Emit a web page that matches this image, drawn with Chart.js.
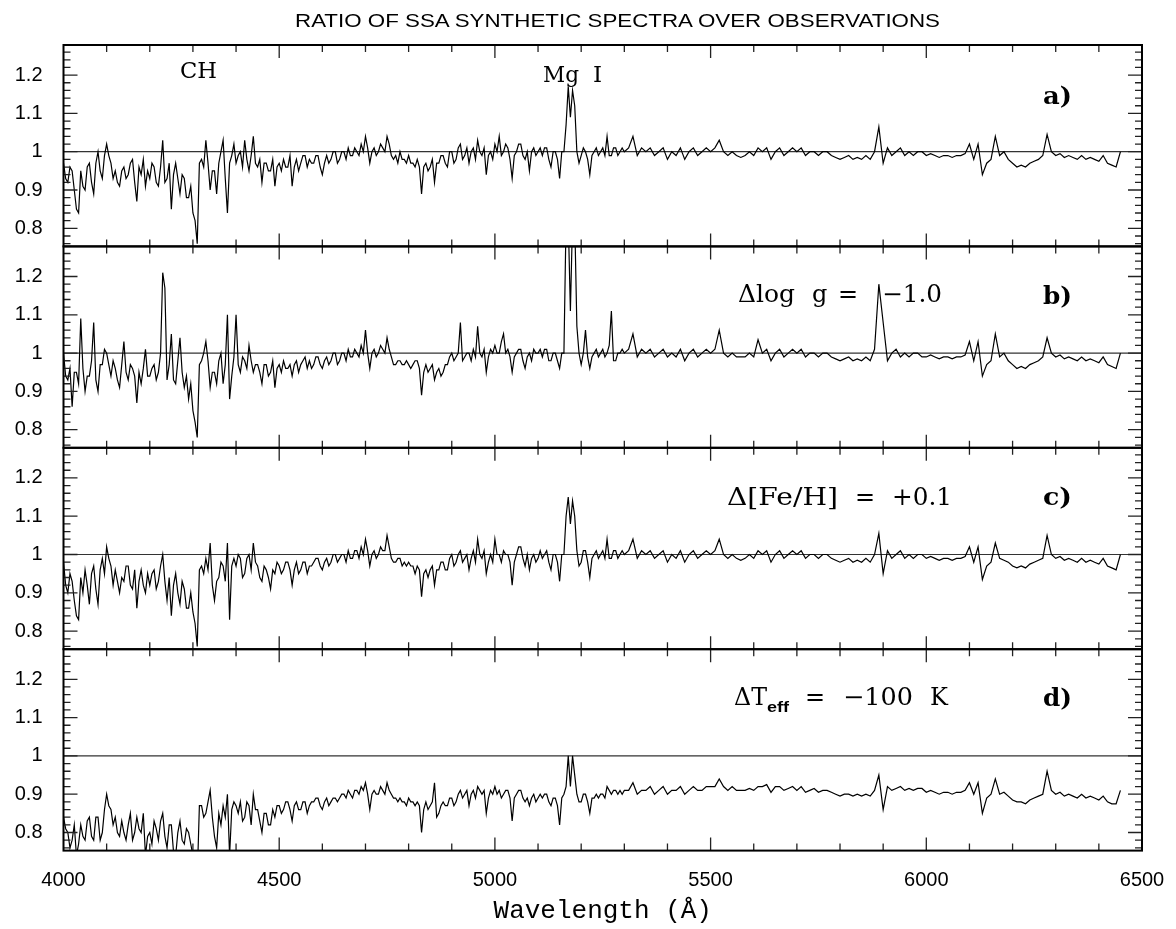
<!DOCTYPE html>
<html>
<head>
<meta charset="utf-8">
<title>Ratio of SSA synthetic spectra over observations</title>
<script src="https://cdn.jsdelivr.net/npm/chart.js@4.4.0/dist/chart.umd.min.js"></script>
<style>
  body { margin: 0; background: #fff; width: 1176px; height: 929px; overflow: hidden; position: relative; }
  canvas { position: absolute; left: 0; top: 0; }
  #labels { position: absolute; left: 0; top: 0; pointer-events: none; }
</style>
</head>
<body>
<canvas id="panelA" width="1176" height="929"></canvas>
<canvas id="panelB" width="1176" height="929"></canvas>
<canvas id="panelC" width="1176" height="929"></canvas>
<canvas id="panelD" width="1176" height="929"></canvas>

<svg id="labels" width="1176" height="929" xmlns="http://www.w3.org/2000/svg">
  <text x="295" y="26.7" font-family="Liberation Sans, Arial, sans-serif" font-size="18.5" textLength="645" lengthAdjust="spacingAndGlyphs">RATIO OF SSA SYNTHETIC SPECTRA OVER OBSERVATIONS</text>

  <g font-family="DejaVu Serif, serif" font-size="23" fill="#000">
    <text x="180" y="78" textLength="37" lengthAdjust="spacingAndGlyphs">CH</text>
    <text x="543" y="81.5" textLength="36" lengthAdjust="spacingAndGlyphs">Mg</text>
    <text x="593" y="81.5">I</text>
  </g>

  <g font-family="DejaVu Serif, serif" font-size="24" fill="#000">
    <text x="738" y="302" textLength="57" lengthAdjust="spacingAndGlyphs">Δlog</text>
    <text x="812" y="302">g</text>
    <text x="838" y="302">=</text>
    <text x="882" y="302" textLength="60" lengthAdjust="spacingAndGlyphs">−1.0</text>

    <text x="727" y="505" textLength="111" lengthAdjust="spacingAndGlyphs">Δ[Fe/H]</text>
    <text x="855" y="505">=</text>
    <text x="892" y="505" textLength="60" lengthAdjust="spacingAndGlyphs">+0.1</text>

    <text x="734" y="705" textLength="33" lengthAdjust="spacingAndGlyphs">ΔT</text>
    <text x="805" y="705">=</text>
    <text x="843" y="705" textLength="70" lengthAdjust="spacingAndGlyphs">−100</text>
    <text x="930" y="705">K</text>
    <text x="767" y="712" font-family="Liberation Sans, Arial, sans-serif" font-weight="bold" font-size="15" textLength="22" lengthAdjust="spacingAndGlyphs">eff</text>
  </g>

  <g font-family="DejaVu Serif, serif" font-size="25" font-weight="bold" fill="#000">
    <text x="1043" y="103.5" textLength="29" lengthAdjust="spacingAndGlyphs">a)</text>
    <text x="1043" y="304" textLength="29" lengthAdjust="spacingAndGlyphs">b)</text>
    <text x="1043" y="505" textLength="29" lengthAdjust="spacingAndGlyphs">c)</text>
    <text x="1043" y="706" textLength="29" lengthAdjust="spacingAndGlyphs">d)</text>
  </g>
</svg>

<script>
// --- Axis labels and ticks ---
const xTickValues = [4000, 4500, 5000, 5500, 6000, 6500];
const xTickLabels = ["4000", "4500", "5000", "5500", "6000", "6500"];
const yTickValues = [0.8, 0.9, 1, 1.1, 1.2];
const yTickLabels = ["0.8", "0.9", "1", "1.1", "1.2"];
const xAxisTitle = "Wavelength (Å)";

// --- Wavelength grid (Å): 5 Å steps up to 5295, 10 Å steps after ---
const wavelengths = [
  4000, 4005, 4010, 4015, 4020, 4025, 4030, 4035, 4040, 4045,
  4050, 4055, 4060, 4065, 4070, 4075, 4080, 4085, 4090, 4095,
  4100, 4105, 4110, 4115, 4120, 4125, 4130, 4135, 4140, 4145,
  4150, 4155, 4160, 4165, 4170, 4175, 4180, 4185, 4190, 4195,
  4200, 4205, 4210, 4215, 4220, 4225, 4230, 4235, 4240, 4245,
  4250, 4255, 4260, 4265, 4270, 4275, 4280, 4285, 4290, 4295,
  4300, 4305, 4310, 4315, 4320, 4325, 4330, 4335, 4340, 4345,
  4350, 4355, 4360, 4365, 4370, 4375, 4380, 4385, 4390, 4395,
  4400, 4405, 4410, 4415, 4420, 4425, 4430, 4435, 4440, 4445,
  4450, 4455, 4460, 4465, 4470, 4475, 4480, 4485, 4490, 4495,
  4500, 4505, 4510, 4515, 4520, 4525, 4530, 4535, 4540, 4545,
  4550, 4555, 4560, 4565, 4570, 4575, 4580, 4585, 4590, 4595,
  4600, 4605, 4610, 4615, 4620, 4625, 4630, 4635, 4640, 4645,
  4650, 4655, 4660, 4665, 4670, 4675, 4680, 4685, 4690, 4695,
  4700, 4705, 4710, 4715, 4720, 4725, 4730, 4735, 4740, 4745,
  4750, 4755, 4760, 4765, 4770, 4775, 4780, 4785, 4790, 4795,
  4800, 4805, 4810, 4815, 4820, 4825, 4830, 4835, 4840, 4845,
  4850, 4855, 4860, 4865, 4870, 4875, 4880, 4885, 4890, 4895,
  4900, 4905, 4910, 4915, 4920, 4925, 4930, 4935, 4940, 4945,
  4950, 4955, 4960, 4965, 4970, 4975, 4980, 4985, 4990, 4995,
  5000, 5005, 5010, 5015, 5020, 5025, 5030, 5035, 5040, 5045,
  5050, 5055, 5060, 5065, 5070, 5075, 5080, 5085, 5090, 5095,
  5100, 5105, 5110, 5115, 5120, 5125, 5130, 5135, 5140, 5145,
  5150, 5155, 5160, 5165, 5170, 5175, 5180, 5185, 5190, 5195,
  5200, 5205, 5210, 5215, 5220, 5225, 5230, 5235, 5240, 5245,
  5250, 5255, 5260, 5265, 5270, 5275, 5280, 5285, 5290, 5295,
  5300, 5310, 5320, 5330, 5340, 5350, 5360, 5370, 5380, 5390,
  5400, 5410, 5420, 5430, 5440, 5450, 5460, 5470, 5480, 5490,
  5500, 5510, 5520, 5530, 5540, 5550, 5560, 5570, 5580, 5590,
  5600, 5610, 5620, 5630, 5640, 5650, 5660, 5670, 5680, 5690,
  5700, 5710, 5720, 5730, 5740, 5750, 5760, 5770, 5780, 5790,
  5800, 5810, 5820, 5830, 5840, 5850, 5860, 5870, 5880, 5890,
  5900, 5910, 5920, 5930, 5940, 5950, 5960, 5970, 5980, 5990,
  6000, 6010, 6020, 6030, 6040, 6050, 6060, 6070, 6080, 6090,
  6100, 6110, 6120, 6130, 6140, 6150, 6160, 6170, 6180, 6190,
  6200, 6210, 6220, 6230, 6240, 6250, 6260, 6270, 6280, 6290,
  6300, 6310, 6320, 6330, 6340, 6350, 6360, 6370, 6380, 6390,
  6400, 6410, 6420, 6430, 6440, 6450
];

// --- Ratio synthetic / observed, one array per panel ---
// a) reference model
const ratioA = [
  0.97, 0.93, 0.92, 0.96, 0.95, 0.90, 0.85, 0.84, 0.95, 0.91,
  0.90, 0.96, 0.97, 0.92, 0.89, 0.97, 1.00, 0.95, 0.93, 0.99,
  1.02, 0.99, 0.97, 0.93, 0.95, 0.92, 0.91, 0.95, 0.96, 0.93,
  0.94, 0.97, 0.98, 0.92, 0.87, 0.96, 0.94, 0.98, 0.91, 0.95,
  0.93, 0.97, 0.96, 0.92, 0.91, 0.96, 1.03, 0.92, 0.93, 0.97,
  0.85, 0.94, 0.97, 0.93, 0.89, 0.94, 0.93, 0.88, 0.88, 0.91,
  0.84, 0.82, 0.76, 0.97, 0.98, 0.96, 1.03, 0.97, 0.90, 0.95,
  0.95, 0.89, 0.97, 1.00, 1.03, 0.93, 0.84, 0.97, 0.99, 1.02,
  0.97, 0.99, 1.00, 0.96, 1.03, 0.98, 0.95, 0.99, 1.04, 0.97,
  0.96, 0.98, 0.92, 0.97, 0.97, 0.95, 0.95, 0.98, 0.91, 0.96,
  0.97, 0.95, 0.98, 0.96, 0.96, 0.99, 0.91, 0.96, 0.98, 0.95,
  0.97, 0.99, 0.99, 0.96, 0.98, 0.97, 0.97, 0.99, 0.99, 0.96,
  0.94, 0.97, 0.99, 0.97, 0.98, 1.00, 1.00, 0.97, 0.98, 1.00,
  1.00, 0.98, 1.01, 0.99, 0.99, 1.01, 1.00, 0.99, 1.02, 1.00,
  1.04, 1.01, 0.97, 1.00, 1.01, 0.99, 1.00, 1.02, 1.01, 1.00,
  1.04, 1.02, 0.99, 0.98, 0.99, 0.97, 1.00, 0.98, 0.98, 0.97,
  0.99, 0.97, 0.97, 0.96, 0.98, 0.96, 0.89, 0.96, 0.97, 0.95,
  0.96, 0.98, 0.92, 0.97, 0.97, 0.99, 0.99, 0.97, 0.96, 1.00,
  1.00, 0.97, 0.98, 1.01, 1.02, 0.98, 0.99, 1.01, 0.97, 1.00,
  1.01, 0.98, 1.03, 1.00, 0.99, 1.01, 0.94, 0.99, 1.00, 0.98,
  1.02, 1.00, 1.04, 0.99, 1.00, 1.02, 1.01, 0.98, 0.93, 0.99,
  1.00, 1.02, 1.02, 0.99, 0.98, 1.00, 0.95, 1.00, 1.01, 0.99,
  1.00, 1.01, 0.99, 1.01, 1.01, 0.98, 0.96, 1.00, 1.00, 0.98,
  0.93, 1.00, 1.00, 1.07, 1.17, 1.09, 1.16, 1.12, 1.00, 0.97,
  0.99, 1.01, 1.00, 0.98, 0.94, 0.99, 1.00, 1.01, 0.99, 1.00,
  1.01, 0.99, 1.04, 0.99, 0.99, 1.01, 1.01, 0.99, 1.00, 1.01,
  1.00, 1.01, 1.04, 0.99, 1.01, 1.00, 1.01, 0.99, 1.00, 1.01,
  0.98, 1.00, 0.99, 1.01, 0.98, 1.00, 1.01, 0.99, 1.00, 1.01,
  1.00, 1.01, 1.03, 1.00, 0.99, 1.00, 0.99, 0.985, 0.99, 1.00,
  0.99, 1.01, 1.00, 1.01, 0.98, 1.00, 1.01, 0.99, 1.00, 1.01,
  1.00, 1.01, 0.99, 1.00, 1.00, 0.99, 1.00, 1.00, 0.99, 0.985,
  0.98, 0.985, 0.99, 0.98, 0.985, 0.98, 0.99, 0.98, 1.00, 1.065,
  0.97, 1.01, 0.99, 1.00, 1.01, 0.99, 1.00, 0.99, 1.00, 1.00,
  0.99, 0.995, 0.99, 0.985, 0.99, 0.99, 0.985, 0.99, 0.99, 0.995,
  1.02, 0.98, 1.02, 0.94, 0.97, 0.98, 1.04, 0.99, 1.00, 0.98,
  0.97, 0.96, 0.965, 0.96, 0.97, 0.975, 0.98, 0.99, 1.045, 1.00,
  0.99, 0.995, 0.985, 0.99, 0.985, 0.98, 0.99, 0.98, 0.985, 0.98,
  0.975, 0.99, 0.97, 0.965, 0.96, 1.00
];

// b) delta log g = -1.0
const ratioB = [
  1.00, 0.94, 0.93, 0.96, 0.86, 0.95, 0.95, 0.92, 1.09, 0.96,
  0.90, 0.94, 0.94, 0.98, 1.08, 0.93, 0.90, 0.97, 0.97, 1.01,
  1.00, 0.97, 0.94, 0.98, 0.96, 0.93, 0.91, 0.97, 1.03, 0.95,
  0.93, 0.97, 0.96, 0.94, 0.87, 0.95, 0.92, 0.96, 1.01, 0.94,
  0.94, 0.96, 0.97, 0.93, 0.95, 1.00, 1.21, 1.17, 0.93, 0.97,
  1.05, 0.93, 0.92, 0.98, 1.04, 0.95, 0.91, 0.94, 0.88, 0.92,
  0.85, 0.82, 0.78, 0.97, 0.98, 1.00, 1.03, 0.98, 0.91, 0.95,
  0.95, 0.92, 0.98, 1.00, 0.92, 0.97, 1.10, 0.88, 0.94, 0.99,
  1.10, 0.97, 0.95, 0.99, 0.98, 0.96, 1.02, 0.98, 0.95, 0.97,
  0.97, 0.95, 0.92, 0.97, 0.97, 0.94, 0.95, 0.98, 0.91, 0.96,
  0.97, 0.95, 0.98, 0.96, 0.96, 0.97, 0.94, 0.97, 0.98, 0.95,
  0.97, 0.98, 0.99, 0.96, 0.98, 0.96, 0.97, 0.99, 0.99, 0.97,
  0.96, 0.98, 0.99, 0.97, 0.98, 1.00, 1.00, 0.97, 0.98, 1.00,
  1.00, 0.98, 1.01, 0.99, 0.99, 1.01, 1.00, 0.99, 1.02, 1.00,
  1.06, 1.00, 0.96, 1.00, 1.01, 0.99, 1.00, 1.02, 1.01, 1.00,
  1.04, 1.01, 0.99, 0.97, 0.97, 0.98, 0.98, 0.97, 0.97, 0.98,
  0.97, 0.96, 0.97, 0.98, 0.98, 0.96, 0.89, 0.95, 0.97, 0.95,
  0.96, 0.97, 0.93, 0.95, 0.96, 0.94, 0.95, 0.97, 0.97, 0.99,
  1.00, 0.98, 0.99, 1.00, 1.08, 0.98, 0.99, 1.00, 1.00, 0.98,
  1.01, 0.99, 1.07, 1.00, 0.99, 1.01, 0.95, 0.99, 1.01, 1.00,
  1.02, 1.00, 1.00, 1.03, 1.05, 1.00, 1.01, 0.99, 0.95, 0.99,
  1.00, 1.01, 1.01, 0.98, 0.96, 0.99, 1.00, 0.98, 1.01, 1.00,
  1.00, 1.01, 0.99, 1.01, 1.01, 0.98, 0.98, 1.00, 1.00, 0.98,
  0.96, 1.00, 1.00, 1.35, 1.35, 1.11, 1.35, 1.35, 1.07, 1.00,
  0.97, 1.00, 1.06, 0.99, 0.96, 0.99, 1.00, 1.01, 0.99, 1.00,
  1.01, 0.99, 1.00, 1.02, 1.11, 0.98, 0.98, 1.00, 1.00, 1.01,
  1.00, 1.01, 1.05, 0.99, 1.01, 1.00, 1.01, 0.99, 1.00, 1.01,
  0.99, 1.00, 0.99, 1.01, 0.98, 1.00, 1.01, 0.99, 1.00, 1.01,
  1.00, 1.01, 1.06, 1.00, 0.99, 1.00, 0.99, 0.99, 0.99, 1.00,
  0.99, 1.035, 1.00, 1.01, 0.98, 1.00, 1.01, 0.99, 1.00, 1.01,
  1.00, 1.01, 0.99, 1.00, 1.00, 0.99, 1.00, 1.00, 0.99, 0.985,
  0.98, 0.985, 0.99, 0.98, 0.985, 0.98, 0.99, 0.98, 1.01, 1.18,
  1.08, 0.98, 1.00, 1.01, 0.99, 1.00, 0.99, 1.00, 1.00, 0.99,
  0.99, 0.995, 0.99, 0.985, 0.99, 0.99, 0.985, 0.99, 0.99, 0.995,
  1.03, 0.98, 1.03, 0.94, 0.97, 0.98, 1.05, 0.99, 1.00, 0.98,
  0.97, 0.96, 0.965, 0.96, 0.97, 0.975, 0.98, 0.99, 1.04, 1.00,
  0.99, 0.995, 0.985, 0.99, 0.985, 0.98, 0.99, 0.98, 0.985, 0.98,
  0.975, 0.99, 0.97, 0.965, 0.96, 1.00
];

// c) delta [Fe/H] = +0.1
const ratioC = [
  0.98, 0.92, 0.90, 0.95, 0.93, 0.88, 0.84, 0.83, 0.94, 0.90,
  0.96, 0.92, 0.87, 0.95, 0.97, 0.91, 0.87, 0.96, 0.99, 0.95,
  1.02, 0.99, 0.97, 0.92, 0.96, 0.93, 0.90, 0.94, 0.93, 0.97,
  0.97, 0.92, 0.91, 0.96, 0.86, 0.93, 0.96, 0.92, 0.90, 0.95,
  0.92, 0.95, 0.96, 0.91, 0.93, 0.97, 1.00, 0.93, 0.88, 0.94,
  0.84, 0.92, 0.95, 0.90, 0.87, 0.93, 0.91, 0.86, 0.86, 0.90,
  0.85, 0.82, 0.76, 0.96, 0.97, 0.95, 0.99, 0.96, 1.03, 0.92,
  0.88, 0.93, 0.94, 0.98, 0.97, 0.93, 1.03, 0.83, 0.97, 0.99,
  0.97, 1.00, 0.99, 0.94, 0.95, 0.99, 1.00, 0.96, 1.03, 0.98,
  0.97, 0.94, 0.93, 0.97, 0.96, 0.94, 0.91, 0.96, 0.95, 0.98,
  0.97, 0.95, 0.96, 0.98, 0.98, 0.96, 0.92, 0.96, 0.98, 0.95,
  0.96, 0.98, 0.98, 0.95, 0.97, 0.97, 0.98, 0.99, 0.99, 0.97,
  0.96, 0.98, 0.99, 0.97, 0.98, 1.00, 1.00, 0.98, 0.99, 1.00,
  1.00, 0.98, 1.01, 0.99, 0.99, 1.01, 1.01, 0.99, 1.02, 1.00,
  1.04, 1.01, 0.97, 1.00, 1.01, 0.99, 1.00, 1.02, 1.01, 1.01,
  1.05, 1.02, 0.99, 0.98, 0.98, 0.99, 0.99, 0.97, 0.98, 0.97,
  0.98, 0.97, 0.97, 0.95, 0.97, 0.96, 0.89, 0.95, 0.96, 0.94,
  0.96, 0.97, 0.92, 0.96, 0.96, 0.98, 0.98, 0.96, 0.96, 0.99,
  1.00, 0.97, 0.98, 1.00, 1.01, 0.98, 0.99, 1.00, 0.96, 0.99,
  1.01, 0.98, 1.04, 1.00, 0.99, 1.01, 0.95, 0.98, 1.00, 0.98,
  1.04, 1.00, 1.00, 0.98, 1.01, 1.00, 1.00, 0.98, 0.92, 0.98,
  1.00, 1.02, 1.02, 0.99, 0.97, 1.00, 0.96, 0.99, 1.00, 0.98,
  0.99, 1.01, 0.99, 1.00, 1.01, 0.98, 0.96, 1.00, 1.00, 0.98,
  0.93, 1.00, 1.00, 1.10, 1.15, 1.08, 1.14, 1.10, 1.01, 0.97,
  0.98, 1.01, 1.01, 0.98, 0.94, 0.99, 1.00, 1.01, 0.99, 1.00,
  1.01, 0.99, 1.04, 0.99, 0.99, 1.01, 1.01, 0.99, 1.00, 1.01,
  1.00, 1.01, 1.04, 0.99, 1.01, 1.00, 1.01, 0.99, 1.00, 1.01,
  0.98, 1.00, 0.99, 1.01, 0.98, 1.00, 1.01, 0.99, 1.00, 1.01,
  1.00, 1.01, 1.04, 1.00, 0.99, 1.00, 0.99, 0.985, 0.99, 1.00,
  0.99, 1.01, 1.00, 1.01, 0.98, 1.00, 1.01, 0.99, 1.00, 1.01,
  1.00, 1.01, 0.99, 1.00, 1.00, 0.99, 1.00, 1.00, 0.99, 0.985,
  0.98, 0.985, 0.99, 0.98, 0.985, 0.98, 0.99, 0.98, 1.00, 1.055,
  0.95, 1.01, 0.99, 1.00, 1.01, 0.99, 1.00, 0.99, 1.00, 1.00,
  0.99, 0.995, 0.99, 0.985, 0.99, 0.99, 0.985, 0.99, 0.99, 0.995,
  1.02, 0.98, 1.02, 0.935, 0.97, 0.98, 1.03, 0.99, 0.985, 0.98,
  0.97, 0.965, 0.97, 0.965, 0.975, 0.98, 0.985, 0.99, 1.05, 1.00,
  0.99, 0.995, 0.985, 0.99, 0.985, 0.98, 0.99, 0.98, 0.985, 0.98,
  0.975, 0.99, 0.97, 0.965, 0.96, 1.00
];

// d) delta Teff = -100 K
const ratioD = [
  0.84, 0.81, 0.80, 0.76, 0.78, 0.82, 0.74, 0.77, 0.82, 0.79,
  0.78, 0.83, 0.84, 0.79, 0.78, 0.84, 0.84, 0.78, 0.80, 0.86,
  0.90, 0.87, 0.86, 0.82, 0.84, 0.80, 0.79, 0.83, 0.80, 0.78,
  0.82, 0.85, 0.78, 0.80, 0.84, 0.81, 0.80, 0.85, 0.74, 0.79,
  0.80, 0.77, 0.83, 0.81, 0.78, 0.83, 0.85, 0.79, 0.76, 0.82,
  0.82, 0.75, 0.74, 0.80, 0.83, 0.78, 0.77, 0.81, 0.80, 0.77,
  0.74, 0.72, 0.68, 0.87, 0.87, 0.84, 0.85, 0.88, 0.91, 0.84,
  0.79, 0.76, 0.85, 0.82, 0.87, 0.84, 0.90, 0.74, 0.86, 0.88,
  0.87, 0.85, 0.88, 0.83, 0.84, 0.88, 0.87, 0.82, 0.90, 0.86,
  0.86, 0.83, 0.80, 0.85, 0.85, 0.82, 0.82, 0.86, 0.84, 0.87,
  0.87, 0.85, 0.86, 0.88, 0.88, 0.86, 0.83, 0.87, 0.88, 0.86,
  0.86, 0.88, 0.88, 0.85, 0.87, 0.88, 0.88, 0.89, 0.89, 0.87,
  0.86, 0.88, 0.89, 0.87, 0.88, 0.89, 0.89, 0.88, 0.89, 0.90,
  0.90, 0.89, 0.91, 0.90, 0.89, 0.91, 0.91, 0.90, 0.92, 0.91,
  0.93, 0.90, 0.86, 0.90, 0.91, 0.90, 0.90, 0.92, 0.91, 0.90,
  0.93, 0.91, 0.90, 0.89, 0.89, 0.88, 0.89, 0.88, 0.88, 0.87,
  0.89, 0.88, 0.88, 0.87, 0.88, 0.87, 0.80, 0.86, 0.88, 0.86,
  0.87, 0.88, 0.93, 0.84, 0.85, 0.87, 0.88, 0.87, 0.87, 0.89,
  0.89, 0.87, 0.88, 0.90, 0.91, 0.89, 0.90, 0.91, 0.87, 0.90,
  0.91, 0.89, 0.92, 0.91, 0.90, 0.91, 0.85, 0.89, 0.91, 0.90,
  0.92, 0.90, 0.91, 0.89, 0.90, 0.91, 0.91, 0.89, 0.83, 0.89,
  0.90, 0.91, 0.91, 0.89, 0.88, 0.89, 0.87, 0.89, 0.90, 0.88,
  0.89, 0.90, 0.89, 0.90, 0.90, 0.88, 0.87, 0.89, 0.89, 0.87,
  0.82, 0.89, 0.90, 0.92, 1.00, 0.92, 1.00, 0.95, 0.90, 0.88,
  0.88, 0.90, 0.90, 0.88, 0.85, 0.89, 0.89, 0.90, 0.89, 0.90,
  0.90, 0.89, 0.92, 0.91, 0.90, 0.91, 0.91, 0.90, 0.91, 0.90,
  0.91, 0.91, 0.93, 0.90, 0.91, 0.91, 0.92, 0.90, 0.91, 0.92,
  0.90, 0.91, 0.91, 0.92, 0.90, 0.91, 0.92, 0.91, 0.91, 0.92,
  0.92, 0.92, 0.94, 0.92, 0.91, 0.92, 0.91, 0.91, 0.91, 0.915,
  0.91, 0.92, 0.92, 0.925, 0.905, 0.92, 0.92, 0.91, 0.915, 0.92,
  0.91, 0.92, 0.905, 0.91, 0.915, 0.905, 0.91, 0.91, 0.905, 0.90,
  0.895, 0.90, 0.90, 0.895, 0.90, 0.895, 0.90, 0.895, 0.91, 0.95,
  0.86, 0.92, 0.91, 0.915, 0.92, 0.91, 0.915, 0.91, 0.915, 0.915,
  0.905, 0.91, 0.905, 0.90, 0.905, 0.905, 0.90, 0.905, 0.905, 0.91,
  0.93, 0.90, 0.93, 0.85, 0.89, 0.90, 0.94, 0.90, 0.905, 0.895,
  0.885, 0.88, 0.88, 0.875, 0.885, 0.89, 0.895, 0.90, 0.96, 0.91,
  0.90, 0.905, 0.895, 0.90, 0.895, 0.89, 0.90, 0.89, 0.895, 0.89,
  0.885, 0.895, 0.88, 0.875, 0.875, 0.91
];

// --- Layout (pixels) ---
const CANVAS_W = 1176, CANVAS_H = 929;
const PLOT_LEFT = 63.5, PLOT_RIGHT = 1142;
const PANEL_TOP = 45, PANEL_H = 201.4;
const Y_MIN = 0.7528, Y_MAX = 1.2786;

// frame, unity line and inward ticks for one panel
const panelPlugin = {
  id: "panelFrame",
  beforeDatasetsDraw(chart) {
    const { ctx, chartArea: a, scales: { y } } = chart;
    const yy = y.getPixelForValue(1);
    ctx.save();
    ctx.strokeStyle = "#333";
    ctx.lineWidth = 1.2;
    ctx.beginPath();
    ctx.moveTo(a.left, yy);
    ctx.lineTo(a.right, yy);
    ctx.stroke();
    ctx.restore();
  },
  afterDatasetsDraw(chart) {
    const { ctx, chartArea: a, scales: { x, y } } = chart;
    ctx.save();
    ctx.strokeStyle = "#222";
    ctx.lineWidth = 1.3;
    ctx.beginPath();
    for (let w = 4100; w < 6500; w += 100) {
      const px = x.getPixelForValue(w);
      const len = w % 500 === 0 ? 13 : 7;
      ctx.moveTo(px, a.top); ctx.lineTo(px, a.top + len);
      ctx.moveTo(px, a.bottom); ctx.lineTo(px, a.bottom - len);
    }
    for (let k = 38; k <= 63; k++) {
      const py = y.getPixelForValue(k * 0.02);
      const len = k % 5 === 0 ? 14 : 7;
      ctx.moveTo(a.left, py); ctx.lineTo(a.left + len, py);
      ctx.moveTo(a.right, py); ctx.lineTo(a.right - len, py);
    }
    ctx.stroke();
    ctx.strokeStyle = "#000";
    ctx.lineWidth = 2;
    ctx.strokeRect(a.left, a.top, a.right - a.left, a.bottom - a.top);
    ctx.restore();
  }
};

function buildPanel(canvasId, values, idx) {
  const top = PANEL_TOP + idx * PANEL_H;
  const bottom = top + PANEL_H;
  const last = idx === 3;
  const points = values.map((v, i) => ({ x: wavelengths[i], y: v }));

  return new Chart(document.getElementById(canvasId), {
    type: "line",
    data: {
      datasets: [{
        data: points,
        borderColor: "#000",
        borderWidth: 1.2,
        pointRadius: 0,
        tension: 0,
        fill: false,
        clip: 0
      }]
    },
    options: {
      responsive: false,
      animation: false,
      events: [],
      devicePixelRatio: 1,
      layout: { padding: { left: 0, right: CANVAS_W - PLOT_RIGHT, top: top, bottom: last ? 0 : CANVAS_H - bottom } },
      plugins: { legend: { display: false }, tooltip: { enabled: false } },
      scales: {
        x: {
          type: "linear",
          min: 4000,
          max: 6500,
          display: last,
          grid: { display: false, drawTicks: false },
          border: { display: false },
          afterBuildTicks: s => { s.ticks = xTickValues.map(v => ({ value: v })); },
          afterFit: s => {
            if (last) s.height = CANVAS_H - bottom;
            s.paddingLeft = 0;
            s.paddingRight = 0;
          },
          ticks: {
            autoSkip: false,
            maxRotation: 0,
            padding: 18,
            color: "#000",
            font: { family: "Liberation Sans", size: 20 },
            callback: (v, i) => xTickLabels[i]
          },
          title: {
            display: true,
            text: xAxisTitle,
            color: "#000",
            font: { family: "Liberation Mono", size: 26 },
            padding: { top: 6, bottom: 2 }
          }
        },
        y: {
          type: "linear",
          min: Y_MIN,
          max: Y_MAX,
          grid: { display: false, drawTicks: false },
          border: { display: false },
          afterBuildTicks: s => { s.ticks = yTickValues.map(v => ({ value: v })); },
          afterFit: s => {
            s.width = PLOT_LEFT;
            s.paddingTop = 0;
            s.paddingBottom = 0;
          },
          ticks: {
            autoSkip: false,
            padding: 21,
            color: "#000",
            font: { family: "Liberation Sans", size: 20 },
            callback: (v, i) => yTickLabels[i]
          }
        }
      }
    },
    plugins: [panelPlugin]
  });
}

buildPanel("panelA", ratioA, 0);
buildPanel("panelB", ratioB, 1);
buildPanel("panelC", ratioC, 2);
buildPanel("panelD", ratioD, 3);
</script>
</body>
</html>
